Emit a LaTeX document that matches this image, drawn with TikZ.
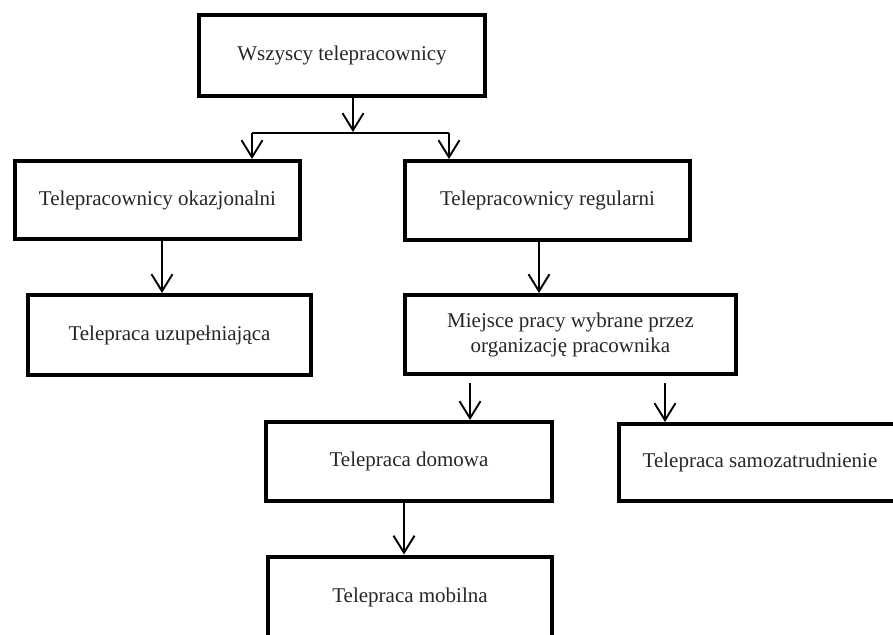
\documentclass[tikz,border=0pt]{standalone}
\usepackage{fontspec}
\setmainfont{Liberation Serif}
\usetikzlibrary{arrows.meta}
\begin{document}
\begin{tikzpicture}[x=1pt,y=-1pt,
  box/.style={draw=black, line width=4pt, rectangle, align=center, inner sep=0pt,
    text=black!85, font=\fontsize{21}{25}\selectfont},
  conn/.style={line width=1.8pt, -{Straight Barb[length=17pt,width=21pt,line width=1.9pt]}},
  plain/.style={line width=1.5pt}]
\useasboundingbox (0,0) rectangle (893,634);
\clip (0,0) rectangle (893,634);
\node[box, minimum width=286pt, minimum height=81pt] (A) at (342,55.5) {Wszyscy telepracownicy};
\node[box, minimum width=285pt, minimum height=78pt] (B) at (157.5,200) {Telepracownicy okazjonalni};
\node[box, minimum width=285pt, minimum height=79pt] (C) at (547.5,200.5) {Telepracownicy regularni};
\node[box, minimum width=283pt, minimum height=80pt] (D) at (169.5,335) {Telepraca uzupełniająca};
\node[box, minimum width=331pt, minimum height=79pt] (E) at (570.5,334.5) {Miejsce pracy wybrane przez\\organizację pracownika};
\node[box, minimum width=286pt, minimum height=79pt] (F) at (409,461.5) {Telepraca domowa};
\node[box, minimum width=282pt, minimum height=77pt] (G) at (760,462.5) {Telepraca samozatrudnienie};
\node[box, minimum width=284pt, minimum height=81pt] (H) at (410,597) {Telepraca mobilna};
\coordinate (br) at (353,132);
\coordinate (bl) at (252,133);
\coordinate (brr) at (449,133);
\coordinate (xbd) at (162,0);
\coordinate (xce) at (539,0);
\coordinate (ef) at (470,383);
\coordinate (eg) at (665,383);
\coordinate (xfh) at (404,0);
\draw[conn] (A.south -| br) -- (br);
\draw[plain] (bl) -- (brr);
\draw[conn] (bl) -- (bl |- B.north);
\draw[conn] (brr) -- (brr |- C.north);
\draw[conn] (B.south -| xbd) -- (D.north -| xbd);
\draw[conn] (C.south -| xce) -- (E.north -| xce);
\draw[conn] (ef) -- (F.north -| ef);
\draw[conn] (eg) -- (G.north -| eg);
\draw[conn] (F.south -| xfh) -- (H.north -| xfh);
\end{tikzpicture}
\end{document}
